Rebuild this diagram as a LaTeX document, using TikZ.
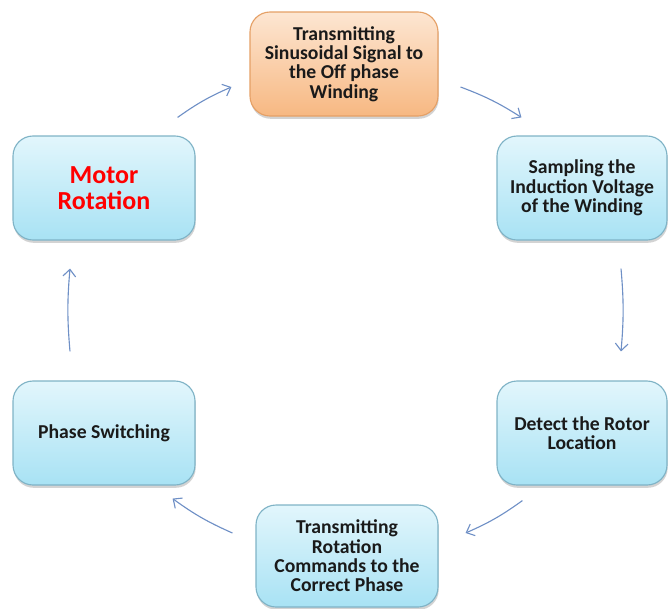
\documentclass[tikz,border=0pt]{standalone}
\usepackage{fontspec}
\setmainfont{Carlito}
\usetikzlibrary{shadows}
\usetikzlibrary{arrows.meta}
\definecolor{boxtop}{HTML}{E2F6FC}
\definecolor{boxbot}{HTML}{A8E2F4}
\definecolor{boxline}{HTML}{7FB3C6}
\definecolor{oratop}{HTML}{FDE6D2}
\definecolor{orabot}{HTML}{F7B882}
\definecolor{oraline}{HTML}{E5A066}
\definecolor{flowblue}{HTML}{6F90C6}
\definecolor{textdark}{HTML}{1A1A1A}
\tikzset{>={Straight Barb[length=5pt,width=9pt]}}
\tikzset{
	% the rounded boxes of the cycle
	cyclebox/.style={rectangle,rounded corners=0.5cm,draw=boxline,line width=0.8pt,
		top color=boxtop,bottom color=boxbot,
		minimum width=4.55cm,minimum height=2.6cm,align=center,inner sep=1pt,
		text=textdark,font=\fontsize{14}{13.8}\selectfont\bfseries,
		drop shadow={opacity=0.35,shadow xshift=0.5pt,shadow yshift=-2pt}},
	orangebox/.style={cyclebox,draw=oraline,top color=oratop,bottom color=orabot},
	% the thin arrows between the boxes
	flowarrow/.style={->,draw=flowblue,line width=0.8pt},
}

\begin{document}
\begin{tikzpicture}
\useasboundingbox (0,0) rectangle (16.75,-15.2);
% the six steps
\node[orangebox,minimum width=4.7cm] (send) at (8.6,-1.6) {Transmitting\\Sinusoidal Signal to\\the Off phase\\Winding};
\node[cyclebox,minimum width=4.25cm] (sample) at (14.55,-4.7) {Sampling the\\Induction Voltage\\of the Winding};
\node[cyclebox,minimum width=4.25cm] (detect) at (14.55,-10.825) {Detect the Rotor\\Location};
\node[cyclebox,minimum height=2.55cm] (command) at (8.675,-13.9) {Transmitting\\Rotation\\Commands to the\\Correct Phase};
\node[cyclebox] (switch) at (2.6,-10.825) {Phase Switching};
\node[cyclebox,text=red,font=\fontsize{18.5}{18.5}\selectfont\bfseries] (motor) at (2.6,-4.7) {Motor\\Rotation};
% the arrows round the cycle
\draw[flowarrow] ([shift={(-0.45,0.45)}]motor.north east) to[bend left=6] ([shift={(-0.45,-0.575)}]send.west);
\draw[flowarrow] ([shift={(0.55,-0.575)}]send.east) to[bend left=6] ([shift={(0.625,0.45)}]sample.north west);
\draw[flowarrow] ([shift={(0.975,-0.7)}]sample.south) to[bend left=5] ([shift={(0.975,0.725)}]detect.north);
\draw[flowarrow] ([shift={(0.65,-0.375)}]detect.south west) to[bend left=6] ([shift={(0.675,0.575)}]command.east);
\draw[flowarrow] ([shift={(-0.575,0.575)}]command.west) to[bend left=6] ([shift={(-0.575,-0.325)}]switch.south east);
\draw[flowarrow] ([shift={(-0.85,0.725)}]switch.north) to[bend left=5] ([shift={(-0.85,-0.7)}]motor.south);
\end{tikzpicture}
\end{document}
